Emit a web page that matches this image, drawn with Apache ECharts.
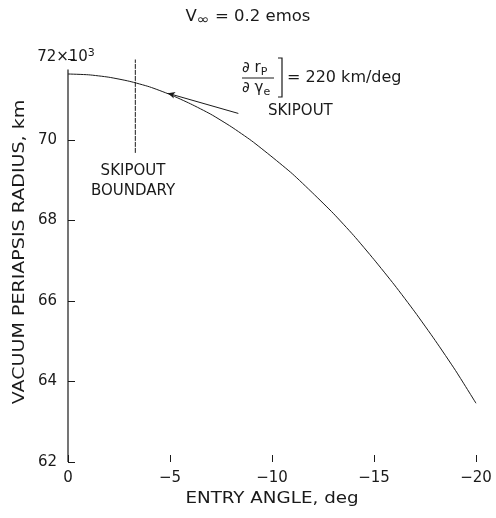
<!DOCTYPE html>
<html><head><meta charset="utf-8">
<script src="https://cdn.jsdelivr.net/npm/echarts@6/dist/echarts.min.js"></script>
<style>html,body{margin:0;padding:0;background:#fff}#c{width:496px;height:518px}</style>
</head><body><div id="c"></div>
<script>
// Entry angle (deg) and vacuum periapsis radius (x10^3 km)
const entryAngle = [0, -1, -2, -3, -4, -5, -6, -7, -8, -9, -10, -11, -12, -13, -14, -15, -16, -17, -18, -19, -20];
const periapsisRadius = [71.64, 71.62, 71.56, 71.46, 71.32, 71.13, 70.90, 70.64, 70.33, 69.98, 69.58, 69.16, 68.68, 68.18, 67.63, 67.03, 66.40, 65.73, 65.02, 64.27, 63.46];
const xTickLabels = ['0', '\u22125', '\u221210', '\u221215', '\u221220'];
const yTickLabels = ['62', '64', '66', '68', '70', '72\u00d710\u00b3'];
// Skipout boundary marker
const boundaryAngle = [-3.3, -3.3];
const boundaryRadius = [69.68, 72.0];
// Tangent (slope) line at skipout
const tangentAngle = [-8.35, -4.9];
const tangentRadius = [70.66, 71.16];
// Left axis segment
const axisAngle = [0, 0];
const axisRadius = [62, 71.75];

const FONT = 'DejaVu Sans';
const INK = '#1a1a1a';
const zip = (a, b) => a.map((v, i) => [v, b[i]]);

const chart = echarts.init(document.getElementById('c'), null, {renderer: 'canvas'});
const option = {
  animation: false,
  backgroundColor: '#fff',
  grid: {left: 68, right: 20, top: 59.5, bottom: 56},
  xAxis: {
    type: 'value', min: -20, max: 0, interval: 5, inverse: true,
    axisLine: {show: false},
    axisTick: {show: true, inside: true, length: 7, lineStyle: {color: INK, width: 1}},
    splitLine: {show: false},
    axisLabel: {
      margin: 9, fontFamily: FONT, fontSize: 15, color: INK,
      formatter: v => xTickLabels[Math.round(-v / 5)]
    }
  },
  yAxis: {
    type: 'value', min: 62, max: 72, interval: 2,
    axisLine: {show: false},
    axisTick: {show: true, inside: true, length: 7, lineStyle: {color: INK, width: 1}},
    splitLine: {show: false},
    axisLabel: {
      margin: 11, fontFamily: FONT, fontSize: 15, color: INK,
      formatter: v => v === 72 ? '' : yTickLabels[Math.round((v - 62) / 2)]
    }
  },
  series: [
    {type: 'line', data: zip(entryAngle, periapsisRadius), showSymbol: false, smooth: 0.2,
     lineStyle: {color: INK, width: 1}, z: 3},
    {type: 'line', data: zip(axisAngle, axisRadius), showSymbol: false,
     lineStyle: {color: INK, width: 1.2}},
    {type: 'line', data: zip(boundaryAngle, boundaryRadius), showSymbol: false,
     lineStyle: {color: INK, width: 1, type: [5, 1]}},
    {type: 'line', data: [], markLine: {
      silent: true, symbol: ['none', 'arrow'], symbolSize: [5, 7], label: {show: false},
      lineStyle: {color: INK, width: 1, type: 'solid'},
      data: [[{coord: [tangentAngle[0], tangentRadius[0]]}, {coord: [tangentAngle[1], tangentRadius[1]]}]]
    }}
  ]
};
chart.setOption(option);

const p72 = chart.convertToPixel({gridIndex: 0}, [0, 72]);
const txt = (x, y, text, opts, extra) => Object.assign({
  type: 'text', x: x, y: y,
  style: Object.assign({text: text, fontFamily: FONT, fontSize: 15, fill: INK, align: 'left', verticalAlign: 'middle'}, opts || {})
}, extra || {});
const rich = {
  sub: {fontFamily: FONT, fontSize: 11, fill: INK, padding: [8, 0, 0, 0]},
  inf: {fontFamily: FONT, fontSize: 14, fill: INK, padding: [7, 0, 0, 0]},
  sup: {fontFamily: FONT, fontSize: 11, fill: INK, padding: [0, 0, 8, 0]}
};
chart.setOption({
  graphic: [
    txt(248, 17, 'V{inf|\u221e} = 0.2 emos', {align: 'center', rich: rich}, {scaleX: 1.1}),
    txt(p72[0] - 2, p72[1] - 2, '72\u00d710{sup|3}', {align: 'center', rich: rich}),
    txt(242, 68, '\u2202 r{sub|P}', {rich: rich}),
    {type: 'line', shape: {x1: 242, y1: 78, x2: 274, y2: 78}, style: {stroke: INK, lineWidth: 1}},
    txt(242, 88, '\u2202 \u03b3{sub|e}', {rich: rich}),
    {type: 'polyline', shape: {points: [[278, 58], [282, 58], [282, 97], [278, 97]]}, style: {stroke: INK, lineWidth: 1.2, fill: null}},
    txt(287, 78, '= 220 km/deg', {fontSize: 16}),
    txt(268, 111, 'SKIPOUT'),
    txt(133, 171, 'SKIPOUT', {align: 'center'}),
    txt(133, 191, 'BOUNDARY', {align: 'center'}),
    txt(272, 499, 'ENTRY ANGLE, deg', {align: 'center'}, {scaleX: 1.22}),
    {type: 'text', x: 20, y: 252, rotation: Math.PI / 2, scaleX: 1.27,
     style: {text: 'VACUUM PERIAPSIS RADIUS, km', fontFamily: FONT, fontSize: 15, fill: INK, align: 'center', verticalAlign: 'middle'}}
  ]
});
</script></body></html>
